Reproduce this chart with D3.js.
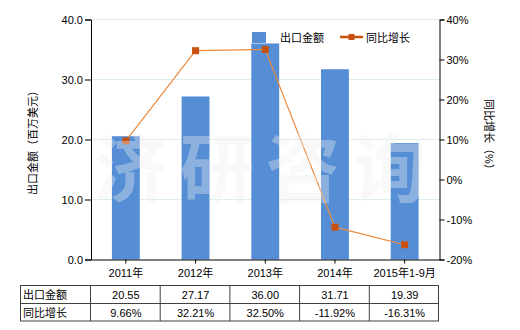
<!DOCTYPE html>
<html><head><meta charset="utf-8">
<script src="https://cdn.jsdelivr.net/npm/d3@7/dist/d3.min.js"></script>
<style>
body{margin:0;background:#fff;}
text{font-family:"Liberation Sans","Noto Sans CJK SC",sans-serif;font-size:11px;}
</style></head><body>
<svg id="c" width="520" height="330"></svg>
<script>
const categories = ["2011年","2012年","2013年","2014年","2015年1-9月"];
const exportValues = [20.55, 27.17, 36.00, 31.71, 19.39];
const growthValues = [9.66, 32.21, 32.50, -11.92, -16.31];
const exportLabels = ["20.55","27.17","36.00","31.71","19.39"];
const growthLabels = ["9.66%","32.21%","32.50%","-11.92%","-16.31%"];
const leftTicks = [0,10,20,30,40];
const rightTicks = [-20,-10,0,10,20,30,40];
const seriesNames = ["出口金额","同比增长"];

const barColor = "#558ED5", lineColor = "#EC8A3E", markColor = "#C8510F";
const svg = d3.select("#c");
const L = 91, R = 439.5, T = 19.5, B = 259.5;

const x = d3.scaleBand().domain(categories).range([L, R]).padding(0);
const yL = d3.scaleLinear().domain([0, 40]).range([B, T]);
const yR = d3.scaleLinear().domain([-20, 40]).range([B, T]);

// gridlines
svg.append("g").selectAll("line").data(leftTicks.filter(d => d > 0)).join("line")
  .attr("x1", L).attr("x2", R).attr("y1", d => yL(d)).attr("y2", d => yL(d))
  .attr("stroke", "#DCEEEE").attr("stroke-width", 1);

// bars
const bw = x.bandwidth() * 0.4;
svg.append("g").selectAll("rect").data(exportValues).join("rect")
  .attr("x", (d, i) => x(categories[i]) + x.bandwidth() / 2 - bw / 2)
  .attr("width", bw)
  .attr("y", d => yL(d)).attr("height", d => B - yL(d))
  .attr("fill", barColor);

// line
const cx = i => x(categories[i]) + x.bandwidth() / 2;
svg.append("path").datum(growthValues)
  .attr("d", d3.line().x((d, i) => cx(i)).y(d => yR(d)))
  .attr("fill", "none").attr("stroke", lineColor).attr("stroke-width", 1.2);
svg.append("g").selectAll("rect").data(growthValues).join("rect")
  .attr("x", (d, i) => cx(i) - 3.5).attr("y", d => yR(d) - 3.5)
  .attr("width", 7).attr("height", 7).attr("fill", markColor);

// axes
const axL = d3.axisLeft(yL).tickValues(leftTicks).tickFormat(d3.format(".1f")).tickSize(6).tickPadding(2);
const gL = svg.append("g").attr("transform", `translate(${L},0)`).call(axL);
const axR = d3.axisRight(yR).tickValues(rightTicks).tickFormat(d => d + "%").tickSize(5).tickPadding(2);
const gR = svg.append("g").attr("transform", `translate(${R},0)`).call(axR);
const axB = d3.axisBottom(x).tickSize(4).tickSizeOuter(0).tickPadding(6);
const gB = svg.append("g").attr("transform", `translate(0,${B})`).call(axB);
[gL, gR, gB].forEach(g => {
  g.selectAll("text").style("font-size", "11px").style("font-family", '"Liberation Sans","Noto Sans CJK SC",sans-serif').style("fill", "#000");
  g.selectAll("line,path").attr("stroke", "#000");
});

// axis titles
svg.append("text").attr("transform", "translate(33,140) rotate(-90)")
  .attr("text-anchor", "middle").attr("dominant-baseline", "central").style("fill", "#000").text("出口金额（百万美元）");
svg.append("text").attr("transform", "translate(489,137) rotate(90)")
  .attr("text-anchor", "middle").attr("dominant-baseline", "central").style("fill", "#000").text("同比增长（%）");

// legend
svg.append("rect").attr("x", 252).attr("y", 32).attr("width", 14).attr("height", 11).attr("fill", barColor);
svg.append("text").attr("x", 280).attr("y", 38).attr("dominant-baseline", "central").style("fill", "#000").text(seriesNames[0]);
svg.append("line").attr("x1", 340).attr("x2", 363).attr("y1", 37).attr("y2", 37).attr("stroke", markColor).attr("stroke-width", 2.5);
svg.append("rect").attr("x", 348.5).attr("y", 34).attr("width", 6).attr("height", 6).attr("fill", markColor);
svg.append("text").attr("x", 366).attr("y", 38).attr("dominant-baseline", "central").style("fill", "#000").text(seriesNames[1]);

// watermark
svg.append("text").attr("x", 94).attr("y", 196)
  .style("font-family", '"Noto Sans CJK SC",sans-serif').style("font-size", "74px").style("font-weight", "bold")
  .style("letter-spacing", "12px")
  .style("fill", "#f0f0f0").style("opacity", 0.36).text("济研咨询");

// table
const tT = 285.5, tM = 303.5, tB = 321, tL = 20.5;
const colEdges = categories.map(c => x(c) - 0.5).concat([R - 1]);
const tg = svg.append("g").attr("stroke", "#404040").attr("stroke-width", 1);
tg.append("rect").attr("x", tL).attr("y", tT).attr("width", colEdges[5] - tL).attr("height", tB - tT).attr("fill", "none");
tg.append("line").attr("x1", tL).attr("x2", colEdges[5]).attr("y1", tM).attr("y2", tM);
tg.selectAll("line.c").data(colEdges.slice(0, 5)).join("line").attr("class", "c")
  .attr("x1", d => d).attr("x2", d => d).attr("y1", tT).attr("y2", tB);
const rows = [[seriesNames[0], exportLabels], [seriesNames[1], growthLabels]];
rows.forEach((r, ri) => {
  const yc = ri === 0 ? (tT + tM) / 2 + 0.5 : (tM + tB) / 2 + 0.5;
  svg.append("text").attr("x", 23).attr("y", yc).attr("dominant-baseline", "central").style("fill", "#000").text(r[0]);
  svg.append("g").selectAll("text").data(r[1]).join("text")
    .attr("x", (d, i) => cx(i)).attr("y", yc).attr("text-anchor", "middle").attr("dominant-baseline", "central").style("fill", "#000").text(d => d);
});
</script></body></html>
